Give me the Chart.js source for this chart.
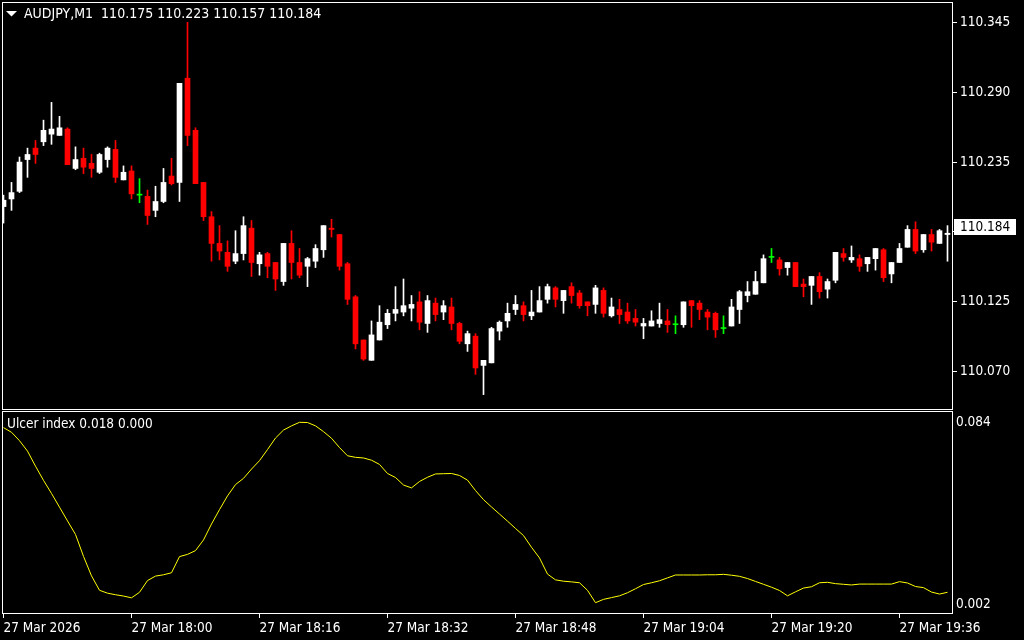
<!DOCTYPE html>
<html>
<head>
<meta charset="utf-8">
<script src="https://cdn.jsdelivr.net/npm/chart.js@4.4.1/dist/chart.umd.min.js"></script>
<style>
  html, body { margin: 0; padding: 0; background: #000; }
  #wrap { position: relative; width: 1024px; height: 640px; overflow: hidden; background: #000; }
  canvas { position: absolute; left: 0; }
  #priceChart { top: 0; }
  #ulcerChart { top: 410px; }
</style>
</head>
<body>
<div id="wrap">
  <canvas id="priceChart" width="1024" height="410"></canvas>
  <canvas id="ulcerChart" width="1024" height="230"></canvas>
</div>
<script>
// AUDJPY M1, 27 Mar 2026 17:44 .. 19:42, one candle per minute
const symbol = "AUDJPY,M1";
const headerOHLC = [110.175, 110.223, 110.157, 110.184];
const lastPrice = 110.184;

const opens = [
  110.200, 110.206, 110.212, 110.237, 110.246, 110.251, 110.257, 110.256, 110.261, 110.230,
  110.238, 110.234, 110.227, 110.237, 110.245, 110.221, 110.228, 110.209, 110.208, 110.197,
  110.204, 110.224, 110.219, 110.301, 110.260, 110.219, 110.192, 110.171, 110.164, 110.157,
  110.163, 110.183, 110.155, 110.163, 110.156, 110.141, 110.171, 110.156, 110.153, 110.157,
  110.166, 110.183, 110.178, 110.155, 110.129, 110.095, 110.079, 110.095, 110.107, 110.116,
  110.117, 110.120, 110.125, 110.108, 110.124, 110.117, 110.121, 110.108, 110.092, 110.098,
  110.075, 110.077, 110.102, 110.110, 110.119, 110.122, 110.114, 110.117, 110.127, 110.136,
  110.126, 110.137, 110.132, 110.125, 110.123, 110.134, 110.114, 110.119, 110.117, 110.112,
  110.106, 110.106, 110.108, 110.110, 110.107, 110.107, 110.126, 110.124, 110.117, 110.116,
  110.104, 110.106, 110.119, 110.130, 110.131, 110.140, 110.160, 110.158, 110.152, 110.156,
  110.139, 110.138, 110.145, 110.135, 110.142, 110.163, 110.158, 110.159, 110.155, 110.159,
  110.166, 110.147, 110.156, 110.168, 110.182, 110.166, 110.178, 110.171, 110.178
];
const highs = [
  110.209, 110.219, 110.239, 110.246, 110.252, 110.268, 110.282, 110.271, 110.262, 110.247,
  110.246, 110.241, 110.242, 110.247, 110.252, 110.232, 110.232, 110.222, 110.213, 110.216,
  110.230, 110.238, 110.297, 110.345, 110.262, 110.219, 110.196, 110.185, 110.173, 110.181,
  110.192, 110.189, 110.164, 110.164, 110.156, 110.171, 110.181, 110.167, 110.160, 110.170,
  110.185, 110.190, 110.178, 110.156, 110.130, 110.095, 110.110, 110.122, 110.119, 110.137,
  110.143, 110.130, 110.133, 110.130, 110.128, 110.126, 110.128, 110.109, 110.102, 110.100,
  110.079, 110.105, 110.110, 110.124, 110.130, 110.125, 110.134, 110.137, 110.139, 110.137,
  110.134, 110.140, 110.134, 110.125, 110.138, 110.136, 110.128, 110.127, 110.124, 110.119,
  110.112, 110.118, 110.124, 110.119, 110.114, 110.125, 110.126, 110.126, 110.119, 110.117,
  110.114, 110.127, 110.134, 110.141, 110.149, 110.162, 110.167, 110.160, 110.156, 110.156,
  110.143, 110.145, 110.148, 110.143, 110.164, 110.167, 110.169, 110.162, 110.160, 110.167,
  110.167, 110.156, 110.171, 110.185, 110.188, 110.178, 110.182, 110.182, 110.185
];
const lows = [
  110.187, 110.197, 110.211, 110.223, 110.234, 110.248, 110.249, 110.256, 110.233, 110.229,
  110.226, 110.223, 110.226, 110.231, 110.219, 110.221, 110.206, 110.203, 110.186, 110.192,
  110.203, 110.217, 110.204, 110.248, 110.218, 110.189, 110.157, 110.158, 110.149, 110.155,
  110.158, 110.145, 110.146, 110.144, 110.134, 110.138, 110.143, 110.144, 110.137, 110.152,
  110.160, 110.176, 110.150, 110.123, 110.088, 110.079, 110.079, 110.095, 110.104, 110.110,
  110.114, 110.110, 110.103, 110.101, 110.110, 110.111, 110.103, 110.092, 110.086, 110.068,
  110.052, 110.077, 110.095, 110.105, 110.115, 110.110, 110.111, 110.117, 110.124, 110.121,
  110.116, 110.124, 110.120, 110.114, 110.116, 110.113, 110.113, 110.108, 110.108, 110.106,
  110.096, 110.106, 110.105, 110.101, 110.100, 110.105, 110.105, 110.111, 110.103, 110.097,
  110.100, 110.106, 110.108, 110.125, 110.131, 110.140, 110.156, 110.146, 110.146, 110.137,
  110.129, 110.123, 110.128, 110.128, 110.140, 110.157, 110.156, 110.149, 110.149, 110.150,
  110.141, 110.140, 110.156, 110.168, 110.163, 110.164, 110.165, 110.171, 110.157
];
const closes = [
  110.205, 110.211, 110.235, 110.241, 110.241, 110.260, 110.261, 110.262, 110.233, 110.237,
  110.231, 110.230, 110.241, 110.246, 110.223, 110.227, 110.210, 110.209, 110.193, 110.204,
  110.219, 110.218, 110.297, 110.256, 110.218, 110.192, 110.171, 110.165, 110.153, 110.163,
  110.185, 110.156, 110.162, 110.153, 110.143, 110.171, 110.156, 110.146, 110.159, 110.167,
  110.185, 110.182, 110.153, 110.127, 110.092, 110.080, 110.099, 110.109, 110.116, 110.119,
  110.122, 110.123, 110.109, 110.126, 110.115, 110.122, 110.108, 110.094, 110.100, 110.073,
  110.079, 110.104, 110.109, 110.116, 110.123, 110.115, 110.117, 110.126, 110.137, 110.127,
  110.134, 110.130, 110.122, 110.122, 110.136, 110.116, 110.121, 110.115, 110.110, 110.109,
  110.108, 110.110, 110.111, 110.107, 110.107, 110.125, 110.122, 110.119, 110.113, 110.103,
  110.104, 110.121, 110.133, 110.133, 110.141, 110.159, 110.160, 110.151, 110.156, 110.137,
  110.137, 110.145, 110.133, 110.141, 110.164, 110.160, 110.160, 110.153, 110.160, 110.167,
  110.144, 110.156, 110.167, 110.182, 110.165, 110.178, 110.172, 110.181, 110.179
];
const ulcer = [
  0.0816, 0.0795, 0.0757, 0.0710, 0.0642, 0.0578, 0.0519, 0.0457, 0.0395, 0.0334,
  0.0235, 0.0147, 0.0082, 0.0069, 0.0062, 0.0056, 0.0048, 0.0073, 0.0126, 0.0146,
  0.0152, 0.0161, 0.0234, 0.0244, 0.0261, 0.0309, 0.0381, 0.0446, 0.0508, 0.0559,
  0.0587, 0.0629, 0.0667, 0.0717, 0.0769, 0.0805, 0.0824, 0.0840, 0.0839, 0.0824,
  0.0798, 0.0768, 0.0726, 0.0689, 0.0682, 0.0679, 0.0669, 0.0650, 0.0609, 0.0591,
  0.0557, 0.0544, 0.0573, 0.0592, 0.0607, 0.0608, 0.0609, 0.0600, 0.0579, 0.0532,
  0.0491, 0.0458, 0.0426, 0.0394, 0.0361, 0.0329, 0.0276, 0.0228, 0.0155, 0.0129,
  0.0123, 0.0120, 0.0116, 0.0082, 0.0026, 0.0041, 0.0049, 0.0057, 0.0071, 0.0089,
  0.0108, 0.0116, 0.0125, 0.0138, 0.0151, 0.0151, 0.0151, 0.0151, 0.0152, 0.0152,
  0.0154, 0.0150, 0.0145, 0.0135, 0.0122, 0.0109, 0.0096, 0.0081, 0.0057, 0.0075,
  0.0092, 0.0098, 0.0116, 0.0118, 0.0112, 0.0109, 0.0106, 0.0110, 0.0110, 0.0110,
  0.0110, 0.0110, 0.0121, 0.0115, 0.0099, 0.0094, 0.0074, 0.0065, 0.0073
];
const ulcerLabel = "Ulcer index 0.018 0.000";

const priceTicks = [110.345, 110.290, 110.235, 110.180, 110.125, 110.070];
const ulcerTicks = [0.084, 0.002];
const timeTickBars = [0, 16, 32, 48, 64, 80, 96, 112];
const timeTickText = [
  "27 Mar 2026", "27 Mar 18:00", "27 Mar 18:16", "27 Mar 18:32",
  "27 Mar 18:48", "27 Mar 19:04", "27 Mar 19:20", "27 Mar 19:36"
];

const FAMILY = '"DejaVu Sans Condensed", "Liberation Sans", sans-serif';
const FSIZE = 13.5;
Chart.defaults.font.family = FAMILY;
Chart.defaults.font.size = FSIZE;
Chart.defaults.color = "#ffffff";

// 8px per minute bar, first bar centred at x=3.5
const X_MIN = -0.1875, X_MAX = 118.6875;

const candleColor = opens.map((o, i) =>
  closes[i] > o ? "#ffffff" : (closes[i] < o ? "#ff0000" : "#00ff00"));

function noPad(s) {
  s.paddingTop = 0; s.paddingBottom = 0; s.paddingLeft = 0; s.paddingRight = 0;
}

const frame = {
  id: "frame",
  afterDraw(chart) {
    const a = chart.chartArea, ctx = chart.ctx;
    ctx.save();
    ctx.strokeStyle = "#ffffff";
    ctx.lineWidth = 1;
    ctx.strokeRect(a.left + 0.5, a.top + 0.5, a.right - a.left - 1, a.bottom - a.top - 1);
    ctx.restore();
  }
};

const priceDecor = {
  id: "priceDecor",
  afterDraw(chart) {
    const ctx = chart.ctx;
    const y = chart.scales.y.getPixelForValue(lastPrice);
    ctx.save();
    ctx.font = FSIZE + "px " + FAMILY;
    ctx.textBaseline = "middle";
    // current price box
    ctx.fillStyle = "#ffffff";
    ctx.fillRect(954, Math.round(y) - 8, 62, 16);
    ctx.fillStyle = "#000000";
    ctx.fillText(lastPrice.toFixed(3), 960, Math.round(y));
    // header
    ctx.fillStyle = "#ffffff";
    ctx.beginPath();
    ctx.moveTo(6, 11); ctx.lineTo(17, 11); ctx.lineTo(11.5, 16.5); ctx.closePath();
    ctx.fill();
    ctx.font = "14px " + FAMILY;
    ctx.fillText(symbol + "  " + headerOHLC.map(v => v.toFixed(3)).join(" "), 24, 14);
    ctx.restore();
  }
};

const ulcerDecor = {
  id: "ulcerDecor",
  afterDraw(chart) {
    const ctx = chart.ctx;
    ctx.save();
    ctx.font = FSIZE + "px " + FAMILY;
    ctx.textBaseline = "middle";
    ctx.fillStyle = "#ffffff";
    ctx.fillText(ulcerLabel, 7, 14);
    ctx.restore();
  }
};

const bars = opens.map((o, i) => i);

new Chart(document.getElementById("priceChart"), {
  type: "bar",
  data: {
    datasets: [
      {
        label: "body",
        data: bars.map(i => ({ x: i, y: [opens[i], closes[i]] })),
        backgroundColor: candleColor,
        borderWidth: 0,
        barThickness: 5,
        minBarLength: 1,
        grouped: false,
        order: 0
      },
      {
        label: "wick",
        data: bars.map(i => ({ x: i, y: [lows[i], highs[i]] })),
        backgroundColor: candleColor,
        borderWidth: 0,
        barThickness: 1,
        minBarLength: 1,
        grouped: false,
        order: 1
      }
    ]
  },
  options: {
    responsive: false,
    animation: false,
    devicePixelRatio: 1,
    layout: { padding: { left: 2, top: 2, right: 0, bottom: 0 } },
    plugins: { legend: { display: false }, tooltip: { enabled: false } },
    scales: {
      x: { type: "linear", offset: false, min: X_MIN, max: X_MAX, display: false },
      y: {
        position: "right",
        min: 110.0399,
        max: 110.361,
        afterBuildTicks: s => { s.ticks = priceTicks.map(v => ({ value: v })); },
        afterFit: s => { s.width = 71; noPad(s); },
        ticks: { autoSkip: false, padding: 3, callback: v => v.toFixed(3) },
        grid: { drawOnChartArea: false, drawTicks: true, tickLength: 4, color: "#ffffff" },
        border: { display: false }
      }
    }
  },
  plugins: [frame, priceDecor]
});

new Chart(document.getElementById("ulcerChart"), {
  type: "line",
  data: {
    datasets: [{
      label: "Ulcer index",
      data: bars.map(i => ({ x: i, y: ulcer[i] })),
      borderColor: "#ffff00",
      borderWidth: 1,
      pointRadius: 0,
      tension: 0,
      fill: false
    }]
  },
  options: {
    responsive: false,
    animation: false,
    devicePixelRatio: 1,
    layout: { padding: { left: 2, top: 1, right: 0, bottom: 0 } },
    plugins: { legend: { display: false }, tooltip: { enabled: false } },
    scales: {
      x: {
        type: "linear",
        position: "bottom",
        offset: false,
        min: X_MIN,
        max: X_MAX,
        afterBuildTicks: s => { s.ticks = timeTickBars.map(v => ({ value: v })); },
        afterFit: s => { s.height = 26; noPad(s); },
        ticks: {
          autoSkip: false, maxRotation: 0, align: "start", padding: 2,
          callback: (v, idx) => timeTickText[idx]
        },
        grid: { drawOnChartArea: false, drawTicks: true, tickLength: 4, color: "#ffffff" },
        border: { display: false }
      },
      y: {
        position: "right",
        min: -0.0025,
        max: 0.0891,
        afterBuildTicks: s => { s.ticks = ulcerTicks.map(v => ({ value: v })); },
        afterFit: s => { s.width = 71; noPad(s); },
        ticks: { autoSkip: false, padding: 3, callback: v => v.toFixed(3) },
        grid: { drawOnChartArea: false, drawTicks: false },
        border: { display: false }
      }
    }
  },
  plugins: [frame, ulcerDecor]
});
</script>
</body>
</html>
